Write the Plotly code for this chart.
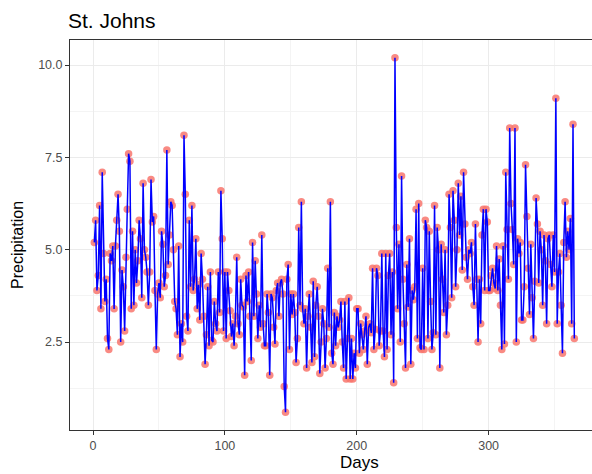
import plotly.graph_objects as go

seg_a = [5.2,5.8,3.9,4.3,6.2,3.4,7.1,4.9,3.6,4.2,2.6,2.3,4.9,4.7,5.1,3.4,5.1,5.8,6.5,5.5,2.5,4.45,4.0,2.8,4.8,6.1,7.6,7.4,3.4,5.5,3.5]
seg_b = [5.0,4.1,4.7,5.8,5.3,3.7,6.8,5.0,4.8,4.4,3.5,4.4,6.9,5.75,5.9,3.9,2.3,3.8,4.1,3.7,5.5,5.15,4.0,4.3,7.7,4.6,5.4,6.3,6.2,5.0,3.6,3.4,2.7,5.1,2.1]
seg_c = [3.0,2.5,8.1,6.5,3.2,2.8,5.8,4.0,6.2,3.9,4.2,5.3,3.4,4.05,3.1,4.9,4.2,3.2,1.9,2.7,4.0,2.4,4.4,2.55,2.5,3.6,3.0,2.8,4.4,3.3,6.6,5.3,2.8,4.4,2.6]
seg_d = [4.4,3.9,3.35,2.65,3.0,2.4,3.2,4.8,3.0,2.7,4.2,3.5,3.45,1.6,4.3,3.6,4.4,3.2,2.0,5.2,3.2,4.7,3.8,2.6,3.5,2.9,5.4,3.0,2.4,2.4,3.8,3.3,1.6,3.8,3.7,2.9,2.45,3.9,4.1]
seg_e = [3.2,4.1,4.2,3.8,1.3,0.6,4.2,4.6,2.3,3.8,3.25,3.8,3.3,1.95,2.6,5.6,3.5,6.3,3.4,3.0,3.4,1.8,3.2,3.8,2.9,1.95,4.15,2.1,3.5,4.0,3.2,1.65,2.5,3.4,3.0,1.8]
seg_f = [2.6,4.5,2.9,6.3,2.2,1.9,3.3,2.4,3.2,2.9,3.1,3.6,2.5,1.8,3.6,1.5,2.6,3.7,1.5,2.6,1.5,2.2,1.8,3.4,3.4,2.2,3.0,2.7,2.3,2.8,3.2,1.9,2.9,3.0,2.75]
seg_g = [4.5,2.3,2.85,4.5,4.3,2.4,2.8,4.9,2.8,2.1,4.9,2.3,4.3,4.9,2.7,4.4,1.4,10.2,5.6,3.4,5.15,2.5,7.0,4.2,3.0,1.8,4.6,3.45,5.3,1.9,3.9,3.65,4.0,6.1,2.6,6.25,2.35]
seg_h = [2.3,4.5,2.3,5.8,5.6,2.6,5.5,3.6,2.3,2.75,6.2,2.7,5.6,5.0,1.8,5.15,4.2,3.3,5.0,2.7,3.5,6.5,5.6,3.7,6.6,5.8,4.0,5.0,6.8,5.4,6.45,4.45,7.1,5.7,4.8,4.2]
seg_i = [5.0,4.9,5.2,4.0,3.5,5.7,4.2,2.5,4.2,3.0,5.4,6.1,3.9,6.1,5.75,3.9,3.9,4.3,4.5,4.1,3.95,5.1,3.9,4.75,3.5,2.3,5.1,2.45,7.1,5.55,4.2,8.3,6.25,5.55,4.6,8.3,2.5]
seg_j = [5.3,4.9,5.2,3.1,3.1,4.0,7.3,5.9,4.5,3.25,5.15,3.7,2.6,4.15,6.4,5.7,4.1,5.5,5.0,3.5,5.4,4.7,3.0,5.3,5.4,4.6,4.0,5.4,4.4,9.1,3.0,4.4,4.9,3.5,2.2,5.2,6.3,4.8]
seg_k = [5.5,5.0,5.85,3.0,8.4,2.6]

precip = seg_a + seg_b + seg_c + seg_d + seg_e + seg_f + seg_g + seg_h + seg_i + seg_j + seg_k
days = list(range(1, len(precip) + 1))

title_text = "St. Johns"
x_title = "Days"
y_title = "Precipitation"
x_ticks = [0, 100, 200, 300]
y_ticks = [2.5, 5.0, 7.5, 10.0]
y_ticklabels = ["2.5", "5.0", "7.5", "10.0"]

W, H = 592, 474
L, R, T, B = 70, 0, 40, 44
pw, ph = W - L - R, H - T - B

fig = go.Figure()
fig.add_trace(go.Scatter(x=days, y=precip, mode="markers",
                         marker=dict(color="#F8766D", size=7.5, opacity=0.85, line=dict(width=0)),
                         hoverinfo="skip", showlegend=False))
fig.add_trace(go.Scatter(x=days, y=precip, mode="lines",
                         line=dict(color="#0000FF", width=1.5),
                         showlegend=False))

font_family = "Liberation Sans, Arial, sans-serif"
fig.update_layout(
    width=W, height=H,
    margin=dict(l=L, r=R, t=T, b=B),
    paper_bgcolor="white", plot_bgcolor="white",
    font=dict(family=font_family, color="#000000"),
    title=dict(text=title_text, x=68/W, xanchor="left", y=1-21/H, yanchor="middle",
               font=dict(size=21, color="black", family=font_family)),
    annotations=[
        dict(text=x_title, xref="paper", yref="paper", x=(359-L)/pw, y=-(463-(T+ph))/ph,
             xanchor="center", yanchor="middle", showarrow=False,
             font=dict(size=17, color="black", family=font_family)),
        dict(text=y_title, xref="paper", yref="paper", x=-(L-17)/pw, y=1-(245-T)/ph,
             xanchor="center", yanchor="middle", showarrow=False, textangle=-90,
             font=dict(size=16, color="black", family=font_family)),
    ],
)
fig.update_xaxes(
    range=[-17.44, 378.4], tickvals=x_ticks, ticktext=[str(t) for t in x_ticks],
    showgrid=True, gridcolor="#EBEBEB", gridwidth=1.1,
    minor=dict(tickvals=[50, 150, 250, 350], showgrid=True, gridcolor="#F4F4F4", gridwidth=0.6, ticks=""),
    showline=True, linecolor="#333333", linewidth=1, mirror=True,
    ticks="outside", ticklen=4, tickcolor="#333333", tickwidth=1,
    tickfont=dict(size=12.5, color="#4D4D4D"),
    zeroline=False,
)
fig.update_yaxes(
    range=[0.12, 10.68], tickvals=y_ticks, ticktext=y_ticklabels,
    showgrid=True, gridcolor="#EBEBEB", gridwidth=1.1,
    minor=dict(tickvals=[1.25, 3.75, 6.25, 8.75], showgrid=True, gridcolor="#F4F4F4", gridwidth=0.6, ticks=""),
    showline=True, linecolor="#333333", linewidth=1, mirror=False,
    ticks="outside", ticklen=4, tickcolor="#333333", tickwidth=1,
    tickfont=dict(size=12.5, color="#4D4D4D"),
    zeroline=False,
)

fig.write_html("out.html")
